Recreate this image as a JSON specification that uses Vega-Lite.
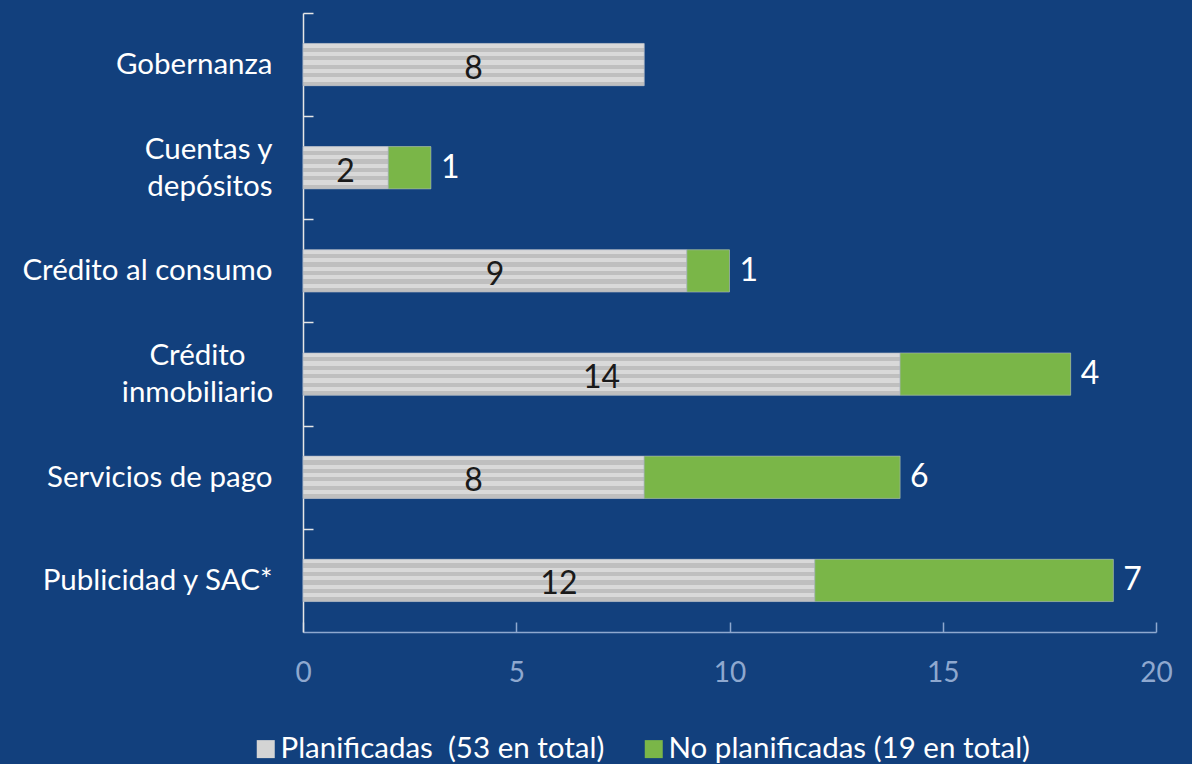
{
  "$schema": "https://vega.github.io/schema/vega-lite/v6.json",
  "width": 853,
  "height": 619,
  "autosize": {"type": "none"},
  "padding": {"left": 303, "top": 13, "right": 36, "bottom": 132},
  "background": "#12407d",
  "config": {"view": {"stroke": null}, "font": "Lato"},
  "data": {
    "values": [
      {"cat": "Gobernanza", "type": "P", "ord": 1, "n": 8},
      {"cat": "Cuentas y depósitos", "type": "P", "ord": 1, "n": 2},
      {"cat": "Cuentas y depósitos", "type": "N", "ord": 2, "n": 1},
      {"cat": "Crédito al consumo", "type": "P", "ord": 1, "n": 9},
      {"cat": "Crédito al consumo", "type": "N", "ord": 2, "n": 1},
      {"cat": "Crédito inmobiliario", "type": "P", "ord": 1, "n": 14},
      {"cat": "Crédito inmobiliario", "type": "N", "ord": 2, "n": 4},
      {"cat": "Servicios de pago", "type": "P", "ord": 1, "n": 8},
      {"cat": "Servicios de pago", "type": "N", "ord": 2, "n": 6},
      {"cat": "Publicidad y SAC*", "type": "P", "ord": 1, "n": 12},
      {"cat": "Publicidad y SAC*", "type": "N", "ord": 2, "n": 7}
    ]
  },
  "encoding": {
    "y": {
      "field": "cat",
      "type": "nominal",
      "sort": ["Gobernanza", "Cuentas y depósitos", "Crédito al consumo", "Crédito inmobiliario", "Servicios de pago", "Publicidad y SAC*"],
      "scale": {"paddingInner": 0.59, "paddingOuter": 0.295},
      "axis": {
        "title": null,
        "domainColor": "#e6e6e6",
        "domainWidth": 1.5,
        "tickColor": "#e6e6e6",
        "tickWidth": 1.5,
        "tickSize": -10,
        "tickOffset": -51.6,
        "labelOffset": {"condition": {"test": "datum.value === 'Crédito inmobiliario' || datum.value === 'Cuentas y depósitos'", "value": 33.1}, "value": 51.6},
        "labelAlign": {"condition": {"test": "datum.value === 'Crédito inmobiliario'", "value": "center"}, "value": "right"},
        "labelPadding": {"condition": {"test": "datum.value === 'Crédito inmobiliario'", "value": 116}, "value": 41},
        "labelColor": "#ffffff",
        "labelFont": "Lato",
        "labelFontSize": 29.5,
        "labelLineHeight": 37,
        "labelLimit": 320,
        "labelExpr": "datum.value === 'Cuentas y depósitos' ? ['Cuentas y', 'depósitos'] : datum.value === 'Crédito inmobiliario' ? ['Crédito', 'inmobiliario'] : datum.value"
      }
    },
    "x": {
      "field": "n",
      "type": "quantitative",
      "stack": "zero",
      "scale": {"domain": [0, 20]},
      "axis": {
        "title": null,
        "grid": false,
        "values": [0, 5, 10, 15, 20],
        "domainColor": "#8ea8cf",
        "domainWidth": 1.5,
        "tickColor": "#8ea8cf",
        "tickWidth": 1.5,
        "tickSize": -10,
        "labelFlush": false,
        "labelColor": "#8ea8cf",
        "labelFont": "Lato",
        "labelFontSize": 28,
        "labelPadding": 37
      }
    },
    "order": {"field": "ord", "type": "quantitative"}
  },
  "layer": [
    {
      "mark": {"type": "bar"},
      "encoding": {
        "color": {
          "field": "type",
          "type": "nominal",
          "scale": {"domain": ["P", "N"], "range": ["#d4d4d4", "#7ab648"]},
          "legend": {
            "orient": "none",
            "legendX": -52,
            "legendY": 721,
            "direction": "horizontal",
            "title": null,
            "symbolType": "square",
            "symbolSize": 324,
            "symbolStrokeWidth": 0,
            "labelFont": "Lato",
            "labelFontSize": 29.5,
            "labelColor": "#ffffff",
            "labelOffset": 0,
            "labelLimit": 500,
            "columnPadding": 34,
            "labelExpr": "datum.value === 'P' ? 'Planificadas\u00a0\u00a0(53 en total)' : 'No planificadas (19 en total)'"
          }
        }
      }
    },
    {
      "mark": {"type": "bar", "stroke": "#a9b3c2", "strokeWidth": 0.6},
      "encoding": {
        "detail": {"field": "type", "type": "nominal"},
        "fill": {
          "condition": {
            "test": "datum.type === 'P'",
            "value": {
              "gradient": "linear",
              "x1": 0, "y1": 0, "x2": 0, "y2": 1,
              "stops": [
                {"offset": 0, "color": "#d9d9d9"},
                {"offset": 0.1, "color": "#d9d9d9"},
                {"offset": 0.1, "color": "#bfbfbf"},
                {"offset": 0.2, "color": "#bfbfbf"},
                {"offset": 0.2, "color": "#d9d9d9"},
                {"offset": 0.3, "color": "#d9d9d9"},
                {"offset": 0.3, "color": "#bfbfbf"},
                {"offset": 0.4, "color": "#bfbfbf"},
                {"offset": 0.4, "color": "#d9d9d9"},
                {"offset": 0.5, "color": "#d9d9d9"},
                {"offset": 0.5, "color": "#bfbfbf"},
                {"offset": 0.6, "color": "#bfbfbf"},
                {"offset": 0.6, "color": "#d9d9d9"},
                {"offset": 0.7, "color": "#d9d9d9"},
                {"offset": 0.7, "color": "#bfbfbf"},
                {"offset": 0.8, "color": "#bfbfbf"},
                {"offset": 0.8, "color": "#d9d9d9"},
                {"offset": 0.9, "color": "#d9d9d9"},
                {"offset": 0.9, "color": "#bfbfbf"},
                {"offset": 1, "color": "#bfbfbf"}
              ]
            }
          },
          "value": "#7ab648"
        }
      }
    },
    {
      "mark": {"type": "text", "font": "Lato", "fontSize": 32, "color": "#1a1a1a", "dy": 4},
      "encoding": {
        "x": {"field": "n", "type": "quantitative", "stack": "zero", "bandPosition": 0.5},
        "detail": {"field": "type", "type": "nominal"},
        "text": {"condition": {"test": "datum.type === 'P'", "field": "n", "type": "quantitative"}, "value": ""}
      }
    },
    {
      "mark": {"type": "text", "font": "Lato", "fontSize": 32, "color": "#ffffff", "align": "left", "dx": 10},
      "encoding": {
        "detail": {"field": "type", "type": "nominal"},
        "text": {"condition": {"test": "datum.type === 'N'", "field": "n", "type": "quantitative"}, "value": ""}
      }
    }
  ]
}
